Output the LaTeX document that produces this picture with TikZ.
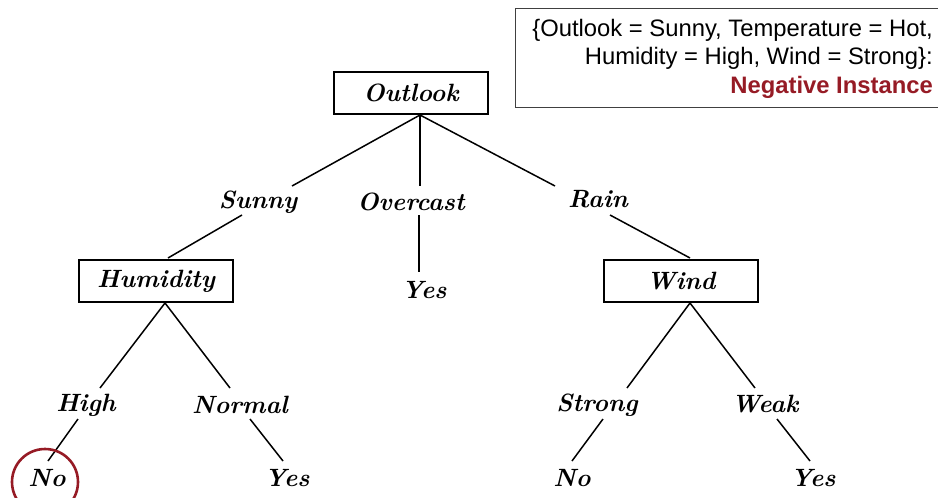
\documentclass[tikz,border=0pt]{standalone}
\usepackage{fontspec}
\newfontfamily\infofont{Liberation Sans}
\begin{document}
\begin{tikzpicture}[x=1pt,y=-1pt,
  treefont/.style={font=\fontsize{25}{29}\selectfont\bfseries\itshape},
  attrbox/.style={draw, line width=1.6pt, rectangle, minimum width=154pt, minimum height=42pt, inner sep=0pt, treefont},
  lbl/.style={inner sep=1pt, treefont},
  branch/.style={line width=1.5pt},
  infotxt/.style={font=\infofont\fontsize{23.8}{28.5}\selectfont}
]
\useasboundingbox (0,0) rectangle (938,498);
\definecolor{darkred}{RGB}{150,27,37}

% example instance
\draw[line width=0.9pt, draw=black!75] (515,8) rectangle (950,107);
\node[infotxt, anchor=north east, align=right, inner sep=0pt] (inst) at (933,19)
  {\{Outlook = Sunny, Temperature = Hot,\\
   Humidity = High, Wind = Strong\}:\\
   \textcolor{darkred}{\bfseries Negative Instance}};

% attribute tests
\node[attrbox] (outlook) at (411,93) {Outlook};
\node[attrbox] (humidity) at (156,281) {Humidity};
\node[attrbox] (wind) at (681,281) {Wind};

% attribute values and leaves
\node[lbl] (sunny) at (258,202) {Sunny};
\node[lbl] (overcast) at (411,202) {Overcast};
\node[lbl] (rain) at (598,199) {Rain};
\node[lbl] (yesmid) at (424,290) {Yes};
\node[lbl] (high) at (86,405) {High};
\node[lbl] (normal) at (240,405) {Normal};
\node[lbl] (strong) at (597,405) {Strong};
\node[lbl] (weak) at (765,404) {Weak};
\node[lbl] (noleft) at (47,478) {No};
\node[lbl] (yesleft) at (287,478) {Yes};
\node[lbl] (noright) at (572,478) {No};
\node[lbl] (yesright) at (813,478) {Yes};

% branch points and line ends
\coordinate (ob) at (420,115);
\coordinate (hb) at (165,303);
\coordinate (wb) at (690,303);
\coordinate (sunnytop) at (292,186);
\coordinate (overtop) at (420,186);
\coordinate (raintop) at (555,186);
\coordinate (sunnybot) at (242,215);
\coordinate (humtop) at (168,258);
\coordinate (overbot) at (419,215);
\coordinate (yesmidtop) at (419,272);
\coordinate (rainbot) at (610,215);
\coordinate (windtop) at (690,258);
\coordinate (hightop) at (100,388);
\coordinate (normaltop) at (230,388);
\coordinate (strongtop) at (627,388);
\coordinate (weaktop) at (755,388);
\coordinate (highbot) at (78,419);
\coordinate (noleftop) at (48,461);
\coordinate (normalbot) at (250,419);
\coordinate (yeslefttop) at (283,461);
\coordinate (strongbot) at (603,419);
\coordinate (norighttop) at (572,461);
\coordinate (weakbot) at (777,419);
\coordinate (yesrighttop) at (810,461);

\draw[branch] (ob) -- (sunnytop);
\draw[branch] (ob) -- (overtop);
\draw[branch] (ob) -- (raintop);
\draw[branch] (sunnybot) -- (humtop);
\draw[branch] (overbot) -- (yesmidtop);
\draw[branch] (rainbot) -- (windtop);
\draw[branch] (hb) -- (hightop);
\draw[branch] (hb) -- (normaltop);
\draw[branch] (wb) -- (strongtop);
\draw[branch] (wb) -- (weaktop);
\draw[branch] (highbot) -- (noleftop);
\draw[branch] (normalbot) -- (yeslefttop);
\draw[branch] (strongbot) -- (norighttop);
\draw[branch] (weakbot) -- (yesrighttop);

% highlighted leaf
\draw[darkred, line width=2.6pt] (noleft.center) ++(-2,4) circle (33);
\end{tikzpicture}
\end{document}
